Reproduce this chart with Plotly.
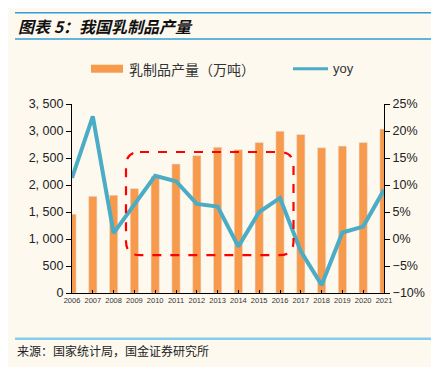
import plotly.graph_objects as go

years = list(range(2006, 2022))
output = [1460, 1790, 1810, 1935, 2160, 2390, 2545, 2700, 2655, 2785, 2995, 2935, 2690, 2720, 2785, 3035]
yoy = [11.3, 22.7, 1.1, 6.5, 11.7, 10.7, 6.5, 6.0, -1.4, 5.0, 7.6, -2.3, -8.5, 1.2, 2.3, 9.1]
left_ticks = [0, 500, 1000, 1500, 2000, 2500, 3000, 3500]
left_ticktext = ["0", "500", "1, 000", "1, 500", "2, 000", "2, 500", "3, 000", "3, 500"]
right_ticks = [-10, -5, 0, 5, 10, 15, 20, 25]
right_ticktext = ["−10%", "−5%", "0%", "5%", "10%", "15%", "20%", "25%"]

BG = "#FDF9EF"
ORANGE = "#F79A4B"
TEAL = "#4BACC6"
CJK = "Noto Sans CJK SC, Liberation Sans, sans-serif"
OFF = 8  # page body margin
W, H = 439 - OFF, 367 - OFF
L, R, T, B = 72 - OFF, 384 - OFF, 104.3 - OFF, 293.3 - OFF


def px(x):
    return (x - OFF - L) / (R - L)


def py(y):
    return (B - (y - OFF)) / (B - T)


fig = go.Figure()
fig.add_trace(go.Bar(x=years, y=output, name="乳制品产量（万吨）", marker_color=ORANGE,
                     width=0.4, showlegend=False))
fig.add_trace(go.Scatter(x=years, y=yoy, name="yoy", yaxis="y2", mode="lines",
                         line=dict(color=TEAL, width=4), showlegend=False))

shapes = []
# title rules
for yy, col, w in [(13, "#2E9BDA", 1.5), (39.3, "#2E9BDA", 1.5), (339, "#87CEEB", 2.5)]:
    shapes.append(dict(type="line", xref="paper", yref="paper", x0=px(15), x1=px(440),
                       y0=py(yy), y1=py(yy), line=dict(color=col, width=w)))
# legend swatches
shapes.append(dict(type="rect", xref="paper", yref="paper", x0=px(91), x1=px(123),
                   y0=py(73), y1=py(65), fillcolor=ORANGE, line=dict(width=0)))
shapes.append(dict(type="line", xref="paper", yref="paper", x0=px(293), x1=px(328),
                   y0=py(69), y1=py(69), line=dict(color=TEAL, width=3)))
# dashed rounded rectangle
x0, x1, y0, y1 = px(126), px(293.5), py(255.5), py(152.3)
rx, ry = 14 / (R - L), 14 / (B - T)
path = (f"M {x0+rx},{y1} L {x1-rx},{y1} Q {x1},{y1} {x1},{y1-ry} "
        f"L {x1},{y0+ry} Q {x1},{y0} {x1-rx},{y0} L {x0+rx},{y0} "
        f"Q {x0},{y0} {x0},{y0+ry} L {x0},{y1-ry} Q {x0},{y1} {x0+rx},{y1} Z")
shapes.append(dict(type="path", xref="paper", yref="paper", path=path,
                   line=dict(color="#FF0000", width=2.2, dash="dash")))

annotations = [
    dict(text="<b><i>图表 5：我国乳制品产量</i></b>", xref="paper", yref="paper",
         x=px(16), y=py(26.5), xanchor="left", yanchor="middle", showarrow=False,
         font=dict(family=CJK, size=16, color="#111")),
    dict(text="乳制品产量（万吨）", xref="paper", yref="paper", x=px(127), y=py(69),
         xanchor="left", yanchor="middle", showarrow=False,
         font=dict(family=CJK, size=14, color="#333")),
    dict(text="yoy", xref="paper", yref="paper", x=px(331), y=py(69),
         xanchor="left", yanchor="middle", showarrow=False,
         font=dict(family="Liberation Sans, Arial", size=13, color="#333")),
    dict(text="来源：国家统计局，国金证券研究所", xref="paper", yref="paper", x=px(15), y=py(351),
         xanchor="left", yanchor="middle", showarrow=False,
         font=dict(family=CJK, size=12, color="#222")),
]

fig.update_layout(
    width=W, height=H, paper_bgcolor=BG, plot_bgcolor=BG,
    margin=dict(l=L, r=W - R, t=T, b=H - B, pad=0),
    showlegend=False, bargap=0.6,
    xaxis=dict(range=[2006, 2021], tickvals=years, ticktext=[str(y) for y in years],
               showgrid=False, zeroline=False, showline=True, linecolor="#000", linewidth=1,
               ticks="inside", ticklen=3, tickcolor="#000",
               tickfont=dict(family="Liberation Sans, Arial", size=7.5, color="#333")),
    yaxis=dict(range=[0, 3500], tickvals=left_ticks, ticktext=left_ticktext,
               showgrid=False, zeroline=False, showline=True, linecolor="#000", linewidth=1.2,
               ticks="outside", ticklen=5, tickcolor="#000",
               tickfont=dict(family="Liberation Sans, Arial", size=12.5, color="#222")),
    yaxis2=dict(range=[-10, 25], tickvals=right_ticks, ticktext=right_ticktext,
                overlaying="y", side="right", showgrid=False, zeroline=False,
                showline=True, linecolor="#000", linewidth=1.2,
                ticks="outside", ticklen=5, tickcolor="#000",
                tickfont=dict(family="Liberation Sans, Arial", size=12.5, color="#222")),
    shapes=shapes, annotations=annotations,
)

fig.write_html("out.html")
